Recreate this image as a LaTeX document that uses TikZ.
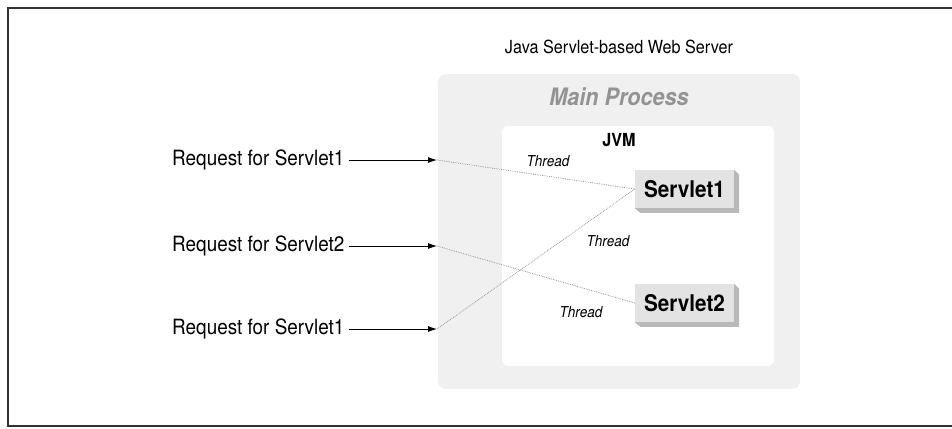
\documentclass[tikz,border=0pt]{standalone}
\usepackage{fontspec}
\setmainfont{TeX Gyre Heros}[FakeStretch=0.9]
\usetikzlibrary{arrows.meta}
\begin{document}
\begin{tikzpicture}[x=1pt,y=-1pt,
  reqtext/.style={anchor=west,inner sep=0pt,font=\fontsize{21}{21}\selectfont},
  reqarrow/.style={-{Latex[length=9pt,width=6pt]},line width=0.9pt},
  thr/.style={densely dotted,line width=0.8pt,gray!80},
  thlabel/.style={inner sep=0pt,font=\itshape\fontsize{15}{15}\selectfont},
  servletbox/.style={fill=gray!22,minimum width=99pt,minimum height=38pt,inner sep=0pt,font=\bfseries\fontsize{23}{23}\selectfont},
  shadowbox/.style={fill=gray!55}]
\useasboundingbox (0,0) rectangle (952,428);
% frame
\draw[line width=2pt,gray!40!black] (960,8) -- (8,8) -- (8,426) -- (960,426);
% title
\node[inner sep=0pt,font=\fontsize{18}{18}\selectfont] (title) at (619,47) {Java Servlet-based Web Server};
% main process
\fill[gray!12,rounded corners=8pt] (438,74) rectangle (800,389);
\node[inner sep=0pt,text=gray!85,font=\bfseries\itshape\fontsize{24}{24}\selectfont] (mp) at (619,97) {Main Process};
% JVM
\fill[white,rounded corners=6pt] (502,126) rectangle (774,366);
\node[inner sep=0pt,font=\bfseries\fontsize{18}{18}\selectfont] (jvm) at (619,140) {JVM};
% servlets
\node[servletbox] (s1) at (684.5,189) {Servlet1};
\fill[shadowbox] (s1.north east) -- ++(5,5) -- ++(0,38) -- ++(-99,0) -- (s1.south west) -- (s1.south east) -- cycle;
\node[servletbox] (s2) at (684.5,303) {Servlet2};
\fill[shadowbox] (s2.north east) -- ++(5,5) -- ++(0,38) -- ++(-99,0) -- (s2.south west) -- (s2.south east) -- cycle;
% requests
\node[reqtext] (r1) at (172,160) {Request for Servlet1};
\node[reqtext] (r2) at (172,246) {Request for Servlet2};
\node[reqtext] (r3) at (172,329) {Request for Servlet1};
\coordinate (a1) at (437,160);
\coordinate (a2) at (437,246);
\coordinate (a3) at (437,329);
\draw[reqarrow] ([xshift=4pt]r1.east) -- (a1);
\draw[reqarrow] ([xshift=4pt]r2.east) -- (a2);
\draw[reqarrow] ([xshift=4pt]r3.east) -- (a3);
% threads
\draw[thr] (a1) -- (s1.west);
\draw[thr] (a2) -- (s2.west);
\draw[thr] (a3) -- (s1.west);
\node[thlabel] (t1) at (548,161) {Thread};
\node[thlabel] (t2) at (608,241) {Thread};
\node[thlabel] (t3) at (581,312) {Thread};
\end{tikzpicture}
\end{document}
